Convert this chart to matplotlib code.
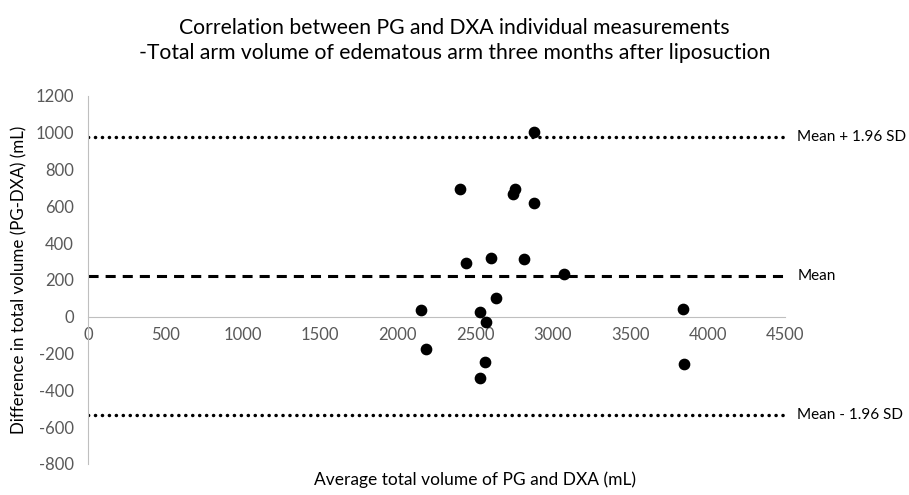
import matplotlib
matplotlib.use("Agg")
import matplotlib.pyplot as plt

plt.rcParams['font.family'] = ['Lato', 'DejaVu Sans']
plt.rcParams['axes.unicode_minus'] = False

# average of PG and DXA (mL), difference PG-DXA (mL)
avg_vol = [2152, 2184, 2402, 2440, 2533, 2528, 2560, 2569, 2602, 2636,
           2741, 2757, 2818, 2879, 2881, 3075, 3841, 3845]
diff_vol = [38, -175, 696, 294, 27, -335, -243, -29, 322, 101,
            669, 692, 315, 1007, 620, 232, 40, -255]

mean_diff = 222
upper_loa = 978
lower_loa = -533

xticks = [0, 500, 1000, 1500, 2000, 2500, 3000, 3500, 4000, 4500]
yticks = [-800, -600, -400, -200, 0, 200, 400, 600, 800, 1000, 1200]

fig = plt.figure(figsize=(9.09, 4.95), dpi=100)
ax = fig.add_axes([88/909, 1-464/495, 697/909, 368/495])

ax.axhline(upper_loa, color='black', lw=2.5, ls=(0, (0.05, 1.95)), dash_capstyle='round')
ax.axhline(lower_loa, color='black', lw=2.5, ls=(0, (0.05, 1.95)), dash_capstyle='round')
ax.axhline(mean_diff, color='black', lw=2.2, ls=(0, (3.3, 2.3)))

ax.scatter(avg_vol, diff_vol, s=55, color='black', zorder=3)

ax.set_xlim(0, 4500)
ax.set_ylim(-800, 1200)
ax.set_xticks(xticks)
ax.set_yticks(yticks)

for s in ['top', 'right']:
    ax.spines[s].set_visible(False)
ax.spines['bottom'].set_position(('data', 0))
ax.spines['bottom'].set_color('#bfbfbf')
ax.spines['left'].set_color('#bfbfbf')
ax.tick_params(length=0, labelsize=12, labelcolor='#595959')
ax.tick_params(axis='x', pad=7)
ax.tick_params(axis='y', pad=10)

ax.text(4580, upper_loa, 'Mean + 1.96 SD', va='center', ha='left', fontsize=11)
ax.text(4580, mean_diff, 'Mean', va='center', ha='left', fontsize=11)
ax.text(4580, lower_loa, 'Mean - 1.96 SD', va='center', ha='left', fontsize=11)

ax.set_ylabel('Difference in total volume (PG-DXA) (mL)', fontsize=12.2, labelpad=6)
fig.text(475/909, 1-480/495, 'Average total volume of PG and DXA (mL)',
         ha='center', va='center', fontsize=12.5)

fig.text(0.5, 1-28/495, 'Correlation between PG and DXA individual measurements',
         ha='center', va='center', fontsize=15.2)
fig.text(0.5, 1-53/495, '-Total arm volume of edematous arm three months after liposuction',
         ha='center', va='center', fontsize=15.2)

plt.savefig('out.png', dpi=100)
